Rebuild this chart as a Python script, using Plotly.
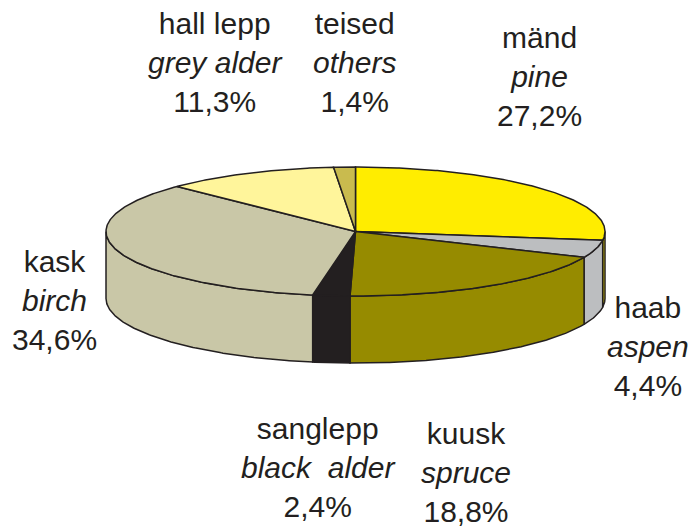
import numpy as np
import plotly.graph_objects as go

# ---- data ----
names_et = ["mänd", "haab", "kuusk", "sanglepp", "kask", "hall lepp", "teised"]
names_en = ["pine", "aspen", "spruce", "black\u00a0 alder", "birch", "grey alder", "others"]
shares = [27.2, 4.4, 18.8, 2.4, 34.6, 11.3, 1.4]

# ---- style / layout ----
colors = ["#FFED00", "#BCBEC0", "#968B00", "#231F20", "#C9C7A7", "#FFF59B", "#C9BB4E"]
edge = "#231F20"
W, H = 691, 528
CX, CY, RA, RB, DEPTH = 355.5, 231.5, 249.5, 64.5, 67.0
label_pos = {  # label block centre (x, y of middle line)
    "mänd": (539, 76), "haab": (648, 346), "kuusk": (466, 472),
    "sanglepp": (318, 467), "kask": (54, 300), "hall lepp": (215, 62),
    "teised": (354, 62),
}

def pt(theta_deg, dy=0.0):
    t = np.radians(theta_deg)
    return CX + RA * np.sin(t), CY - RB * np.cos(t) + dy

total = sum(shares)
bounds = np.concatenate([[0.0], np.cumsum(shares) / total * 360.0])

fig = go.Figure()

# side walls (front half only: 90..270 deg clockwise from top)
for i in range(len(shares)):
    a0, a1 = max(bounds[i], 90.0), min(bounds[i + 1], 270.0)
    if a1 <= a0:
        continue
    th = np.linspace(a0, a1, max(int((a1 - a0) * 2), 4))
    xt, yt = pt(th)
    xb, yb = pt(th[::-1], DEPTH)
    xs = np.concatenate([xt, xb, xt[:1]])
    ys = np.concatenate([yt, yb, yt[:1]])
    fig.add_trace(go.Scatter(x=xs, y=ys, mode="lines", fill="toself",
                             fillcolor=colors[i], line=dict(color=edge, width=1.5),
                             hoverinfo="skip", showlegend=False))

# top faces
for i in range(len(shares)):
    a0, a1 = bounds[i], bounds[i + 1]
    th = np.linspace(a0, a1, max(int((a1 - a0) * 2), 4))
    xa, ya = pt(th)
    xs = np.concatenate([[CX], xa, [CX]])
    ys = np.concatenate([[CY], ya, [CY]])
    fig.add_trace(go.Scatter(x=xs, y=ys, mode="lines", fill="toself",
                             fillcolor=colors[i], line=dict(color=edge, width=1.5),
                             hoverinfo="skip", showlegend=False))

# labels
for et, en, v in zip(names_et, names_en, shares):
    x, y = label_pos[et]
    pct = f"{v:.1f}".replace(".", ",") + "%"
    fig.add_annotation(x=x, y=y, xref="x", yref="y", showarrow=False,
                       text=f"{et}<br><i>{en}</i><br>{pct}",
                       align="center", xanchor="center", yanchor="middle",
                       font=dict(family="Liberation Sans, Arial, sans-serif",
                                 size=30, color=edge))

fig.update_layout(
    width=W, height=H, margin=dict(l=0, r=0, t=0, b=0),
    paper_bgcolor="white", plot_bgcolor="white",
    xaxis=dict(range=[0, W], visible=False, fixedrange=True),
    yaxis=dict(range=[H, 0], visible=False, fixedrange=True),
)
fig.write_html("out.html", config={"displayModeBar": False},
               post_script="document.body.style.margin='0';document.body.style.overflow='hidden';")
